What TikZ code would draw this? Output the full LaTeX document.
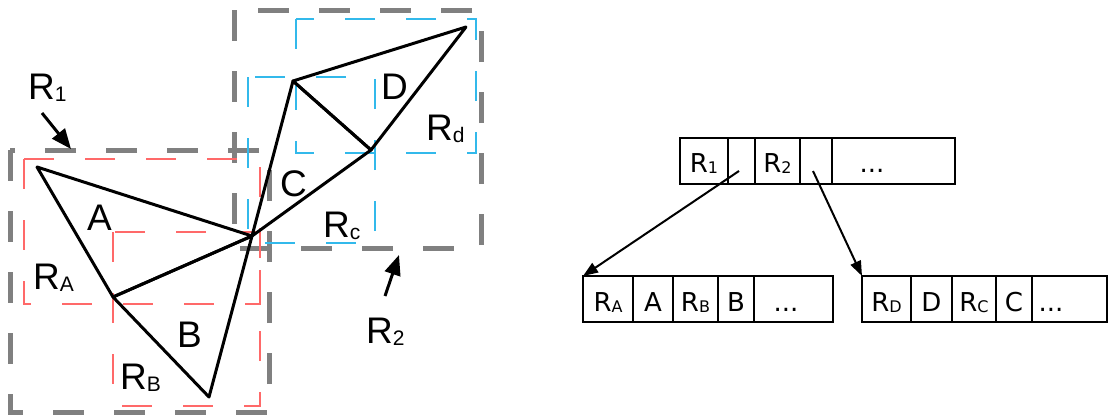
\documentclass[tikz,border=0pt]{standalone}
\usepackage{fontspec}
\setmainfont{Liberation Sans}
\newfontfamily\dejavu{DejaVu Sans}
\usetikzlibrary{arrows.meta}
\definecolor{rgray}{RGB}{128,128,128}
\definecolor{rred}{RGB}{255,105,105}
\definecolor{rblue}{RGB}{50,185,235}
\newcommand{\LSub}[2]{#1\raisebox{-2pt}{\fontsize{21}{21}\selectfont #2}}
\newcommand{\RSub}[2]{#1\raisebox{-1pt}{\fontsize{16}{16}\selectfont #2}}
\begin{document}
\begin{tikzpicture}[x=1pt,y=-1pt,
  graybox/.style={draw=rgray,line width=5pt,dash pattern=on 31pt off 30pt},
  redbox/.style={draw=rred,line width=1.3pt,dash pattern=on 30pt off 31pt},
  bluebox/.style={draw=rblue,line width=1.3pt,dash pattern=on 30pt off 31pt},
  tri/.style={draw=black,line width=3pt,line join=round},
  lbl/.style={font=\fontsize{37}{37}\selectfont,inner sep=0pt,anchor=base west},
  bigarrow/.style={line width=3pt,-{Triangle[length=20pt,width=16pt]}},
  cell/.style={draw,line width=2pt,minimum height=46pt,inner sep=0pt,outer sep=0pt,anchor=west},
  ctext/.style={font=\dejavu\fontsize{26}{26}\selectfont,inner sep=0pt,anchor=base},
  ptr/.style={line width=2pt,-{Triangle[length=15pt,width=11pt]}}
]
\useasboundingbox (0,0) rectangle (1109,415);

% region boxes
\draw[graybox] (10,150) rectangle (269,412);
\draw[graybox] (234,10) rectangle (481,248);
\draw[redbox] (24,159) rectangle (260,304);
\draw[redbox] (113,232) rectangle (260,406);
\draw[bluebox] (296,19) rectangle (476,153);
\draw[bluebox] (248,77) rectangle (375,243);

% triangles
\coordinate (P1) at (37,167);
\coordinate (V) at (252,236);
\coordinate (P3) at (113,297);
\coordinate (P4) at (209,397);
\coordinate (Q1) at (293,81);
\coordinate (Q2) at (371,150);
\coordinate (Q3) at (466,27);
\draw[tri] (P1) -- (V) -- (P3) -- cycle;
\draw[tri] (P3) -- (P4) -- (V) -- cycle;
\draw[tri] (V) -- (Q1) -- (Q2) -- cycle;
\draw[tri] (Q1) -- (Q3) -- (Q2) -- cycle;

% labels
\node[lbl] (lR1) at (28,99) {\LSub{R}{1}};
\node[lbl] (lA) at (87,230) {A};
\node[lbl] (lRA) at (33,289) {\LSub{R}{A}};
\node[lbl] (lB) at (177,347) {B};
\node[lbl] (lRB) at (120,389) {\LSub{R}{B}};
\node[lbl] (lC) at (280,196) {C};
\node[lbl] (lD) at (381,99) {D};
\node[lbl] (lRd) at (426,140) {\LSub{R}{d}};
\node[lbl] (lRc) at (323,237) {\LSub{R}{c}};
\node[lbl] (lR2) at (366,343) {\LSub{R}{2}};

\coordinate (a1s) at (42,113);
\coordinate (a1e) at (71,149);
\draw[bigarrow] (a1s) -- (a1e);
\coordinate (a2s) at (385,296);
\coordinate (a2e) at (399,255);
\draw[bigarrow] (a2s) -- (a2e);

% top record
\node[cell,minimum width=48pt] (t1) at (680,161) {};
\node[cell,minimum width=27pt] (t2) at (728,161) {};
\node[cell,minimum width=45pt] (t3) at (755,161) {};
\node[cell,minimum width=32pt] (t4) at (800,161) {};
\node[cell,minimum width=123pt] (t5) at (832,161) {};
\node[ctext] (tx1) at (704,172) {\RSub{R}{1}};
\node[ctext] (tx3) at (777.5,172) {\RSub{R}{2}};
\node[ctext] (tx5) at (872,172) {...};

% bottom left record
\node[cell,minimum width=50pt] (l1) at (583,299) {};
\node[cell,minimum width=40pt] (l2) at (633,299) {};
\node[cell,minimum width=45pt] (l3) at (673,299) {};
\node[cell,minimum width=36pt] (l4) at (718,299) {};
\node[cell,minimum width=79pt] (l5) at (754,299) {};
\node[ctext] (lx1) at (608,311) {\RSub{R}{A}};
\node[ctext] (lx2) at (653,311) {A};
\node[ctext] (lx3) at (695.5,311) {\RSub{R}{B}};
\node[ctext] (lx4) at (736,311) {B};
\node[ctext] (lx5) at (786,311) {...};

% bottom right record
\node[cell,minimum width=49pt] (r1) at (862,299) {};
\node[cell,minimum width=41pt] (r2) at (911,299) {};
\node[cell,minimum width=44pt] (r3) at (952,299) {};
\node[cell,minimum width=36pt] (r4) at (996,299) {};
\node[cell,minimum width=75pt] (r5) at (1032,299) {};
\node[ctext] (rx1) at (886.5,311) {\RSub{R}{D}};
\node[ctext] (rx2) at (931.5,311) {D};
\node[ctext] (rx3) at (974,311) {\RSub{R}{C}};
\node[ctext] (rx4) at (1014,311) {C};
\node[ctext] (rx5) at (1051,311) {...};

% pointers
\coordinate (p1) at (739,171);
\coordinate (p2) at (813,171);
\draw[ptr] (p1) -- (l1.north west);
\draw[ptr] (p2) -- (r1.north west);
\end{tikzpicture}
\end{document}
